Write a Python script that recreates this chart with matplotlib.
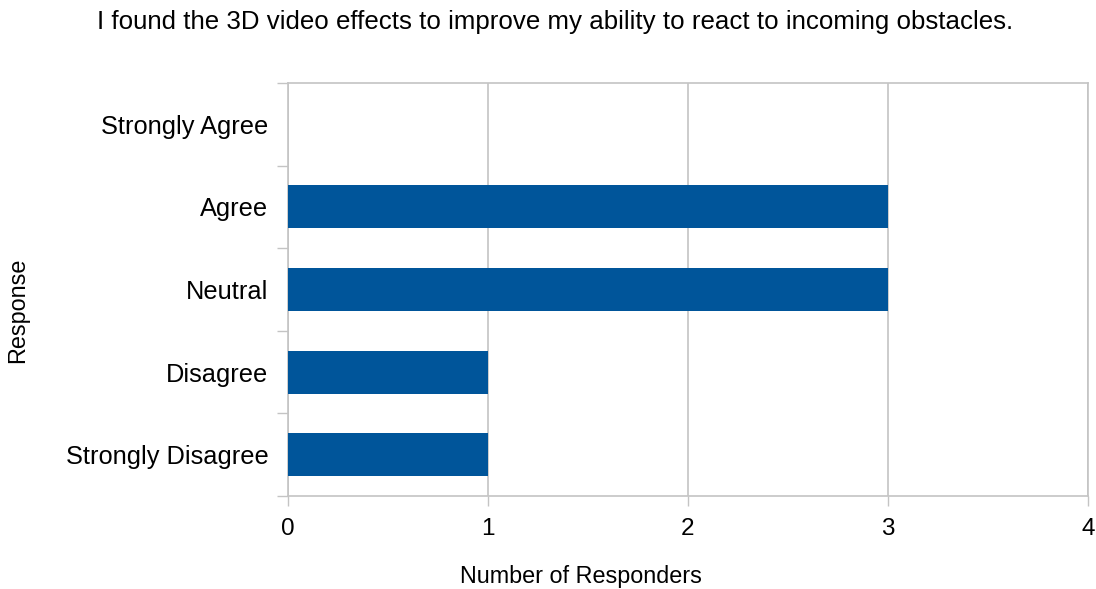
import matplotlib
matplotlib.use("Agg")
import matplotlib.pyplot as plt
import numpy as np

plt.rcParams['font.family'] = ['Liberation Sans', 'DejaVu Sans']

categories = ["Strongly Agree", "Agree", "Neutral", "Disagree", "Strongly Disagree"]
counts = [0, 3, 3, 1, 1]
x_ticks = [0, 1, 2, 3, 4]

title = "I found the 3D video effects to improve my ability to react to incoming obstacles."
xlabel = "Number of Responders"
ylabel = "Response"

bar_color = "#00559a"
grid_color = "#c4c4c4"

fig = plt.figure(figsize=(10.96, 5.89), dpi=100)
ax = fig.add_axes([288 / 1096, 1 - 496 / 589, 800 / 1096, 413 / 589])

n = len(categories)
pos = np.arange(n)[::-1]
ax.barh(pos, counts, height=0.52, color=bar_color, edgecolor="none", zorder=3)

ax.set_xlim(0, 4)
ax.set_ylim(-0.5, n - 0.5)
ax.set_xticks(x_ticks)
ax.set_xticklabels([str(t) for t in x_ticks], fontsize=17.5)
ax.set_yticks(pos)
ax.set_yticklabels(categories, fontsize=18.3)
ax.set_yticks(np.arange(-0.5, n, 1.0), minor=True)

ax.tick_params(axis='y', which='major', length=0, pad=14)
ax.tick_params(axis='y', which='minor', length=8, width=1, color=grid_color)
ax.tick_params(axis='x', which='major', length=7.5, width=1, color=grid_color, pad=8)

ax.grid(axis='x', color=grid_color, linewidth=1.2, zorder=0)
for s in ax.spines.values():
    s.set_color(grid_color)
    s.set_linewidth(1.2)

fig.text(581 / 1096, 1 - 576 / 589, xlabel, fontsize=16.8, ha='center', va='center')
fig.text(18 / 1096, 1 - 310 / 589, ylabel, fontsize=16.8, ha='center', va='center',
         rotation=90)
fig.text(555 / 1096, 1 - 22 / 589, title, fontsize=18.6, ha='center', va='center')

fig.savefig("out.png", dpi=100, facecolor="white")
